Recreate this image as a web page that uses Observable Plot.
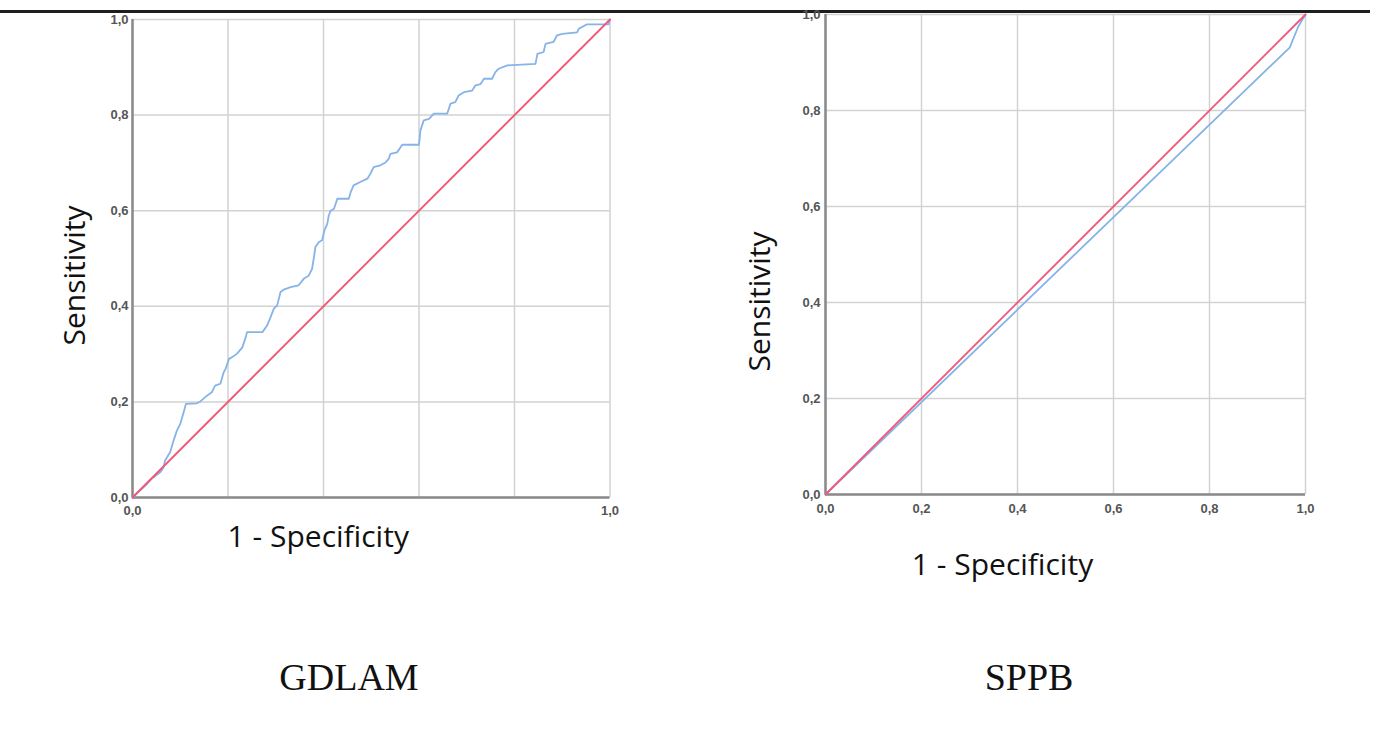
<!DOCTYPE html>
<html>
<head>
<meta charset="utf-8">
<script src="https://cdn.jsdelivr.net/npm/d3@7"></script>
<script src="https://cdn.jsdelivr.net/npm/@observablehq/plot@0.6"></script>
<style>
  html, body { margin: 0; padding: 0; background: #fff; }
  #page { position: relative; width: 1373px; height: 737px; overflow: hidden; background: #fff; }
  #topline { position: absolute; left: 0; top: 10px; width: 1370px; height: 3px; background: #1e1e1e; }
  .panel { position: absolute; top: 0; }
  .caption { position: absolute; top: 655px; font-family: "Liberation Serif", "Times New Roman", serif; font-size: 38px; color: #111; text-align: center; width: 300px; }
</style>
</head>
<body>
<div id="page">
  <div id="topline"></div>
  <div id="left" class="panel" style="left:0px"></div>
  <div id="right" class="panel" style="left:690px"></div>
  <div class="caption" style="left:199px">GDLAM</div>
  <div class="caption" style="left:879px">SPPB</div>
</div>
<script>
// ---- data ----
const gdlamFpr = [0, 0.016, 0.027, 0.040, 0.058, 0.065, 0.068, 0.079, 0.086, 0.093, 0.100, 0.107, 0.112, 0.135, 0.142, 0.156, 0.166, 0.173, 0.184, 0.191, 0.195, 0.202, 0.209, 0.219, 0.230, 0.237, 0.240, 0.272, 0.282, 0.289, 0.296, 0.303, 0.310, 0.317, 0.331, 0.348, 0.359, 0.369, 0.376, 0.380, 0.383, 0.390, 0.397, 0.402, 0.408, 0.411, 0.415, 0.422, 0.429, 0.453, 0.457, 0.463, 0.477, 0.492, 0.498, 0.505, 0.519, 0.530, 0.537, 0.540, 0.554, 0.565, 0.600, 0.603, 0.610, 0.621, 0.631, 0.659, 0.666, 0.676, 0.683, 0.694, 0.711, 0.718, 0.729, 0.736, 0.753, 0.760, 0.767, 0.785, 0.844, 0.848, 0.861, 0.865, 0.882, 0.889, 0.900, 0.931, 0.935, 0.952, 0.997, 1];
const gdlamTpr = [0, 0.015, 0.025, 0.039, 0.053, 0.063, 0.077, 0.095, 0.119, 0.140, 0.154, 0.178, 0.196, 0.197, 0.201, 0.213, 0.220, 0.234, 0.238, 0.262, 0.269, 0.290, 0.294, 0.301, 0.314, 0.335, 0.346, 0.346, 0.360, 0.377, 0.395, 0.402, 0.430, 0.435, 0.440, 0.444, 0.458, 0.464, 0.478, 0.503, 0.524, 0.534, 0.538, 0.559, 0.573, 0.590, 0.600, 0.604, 0.625, 0.625, 0.639, 0.653, 0.660, 0.667, 0.677, 0.691, 0.695, 0.701, 0.709, 0.719, 0.722, 0.738, 0.738, 0.768, 0.789, 0.792, 0.803, 0.803, 0.824, 0.827, 0.841, 0.848, 0.851, 0.862, 0.865, 0.876, 0.876, 0.890, 0.897, 0.904, 0.907, 0.928, 0.932, 0.949, 0.953, 0.967, 0.970, 0.973, 0.981, 0.990, 0.990, 1];
const sppbFpr = [0, 0.967, 0.985, 1];
const sppbTpr = [0, 0.931, 0.975, 1];
const refLine = [0, 1];
const tickValues = [0, 0.2, 0.4, 0.6, 0.8, 1.0];
const xLabel = "1 - Specificity";
const yLabel = "Sensitivity";

// ---- build tables ----
const zipPts = (xs, ys) => xs.map((x, i) => ({x, y: ys[i]}));
const gdlam = zipPts(gdlamFpr, gdlamTpr);
const sppb = zipPts(sppbFpr, sppbTpr);
const diag = zipPts(refLine, refLine);
const fmt = d => d.toFixed(1).replace(".", ",");

const RED = "#f2587a";
const BLUE = "#86b3e8";
const GRID = "#d2d2d2";
const AXIS = "#8a8a8a";

function roc({data, width, height, margins, xTicks, xPad, yPad, yLab, xLab}) {
  return Plot.plot({
    width, height,
    marginLeft: margins[0], marginRight: margins[1], marginTop: margins[2], marginBottom: margins[3],
    style: {fontFamily: "'Liberation Sans', Arial, sans-serif", background: "transparent", overflow: "visible"},
    x: {domain: [0, 1], nice: false},
    y: {domain: [0, 1], nice: false},
    marks: [
      Plot.gridX(tickValues, {stroke: GRID, strokeOpacity: 1, strokeWidth: 1.5}),
      Plot.gridY(tickValues, {stroke: GRID, strokeOpacity: 1, strokeWidth: 1.5}),
      Plot.ruleX([0], {stroke: AXIS, strokeWidth: 2.5}),
      Plot.ruleY([0], {stroke: AXIS, strokeWidth: 2.5}),
      Plot.axisX(xTicks, {tickSize: 0, tickPadding: xPad, tickFormat: fmt, fontSize: 13, fontWeight: "bold", fill: "#555", label: null}),
      Plot.axisY(tickValues, {tickSize: 0, tickPadding: yPad, tickFormat: fmt, fontSize: 13, fontWeight: "bold", fill: "#555", label: null}),
      Plot.line(data, {x: "x", y: "y", stroke: BLUE, strokeWidth: 1.8}),
      Plot.line(diag, {x: "x", y: "y", stroke: RED, strokeWidth: 1.9}),
      Plot.text([yLabel], {frameAnchor: "left", textAnchor: "middle", lineAnchor: "middle", rotate: -90, dx: yLab[0], dy: yLab[1], fontSize: 30, fontFamily: "'Open Sans', sans-serif", fill: "#111", text: d => d}),
      Plot.text([xLabel], {frameAnchor: "bottom", textAnchor: "middle", lineAnchor: "middle", dx: xLab[0], dy: xLab[1], fontSize: 30, fontFamily: "'Open Sans', sans-serif", fill: "#111", text: d => d})
    ]
  });
}

document.getElementById("left").appendChild(roc({
  data: gdlam, width: 690, height: 600,
  margins: [132, 80.5, 19, 103],
  xTicks: [0, 1.0], xPad: 8, yPad: 4,
  yLab: [-57, 17], xLab: [-53, 40]
}));

document.getElementById("right").appendChild(roc({
  data: sppb, width: 683, height: 600,
  margins: [135, 68, 14, 106],
  xTicks: tickValues, xPad: 9, yPad: 5,
  yLab: [-65, 47], xLab: [-63, 71]
}));
</script>
</body>
</html>
